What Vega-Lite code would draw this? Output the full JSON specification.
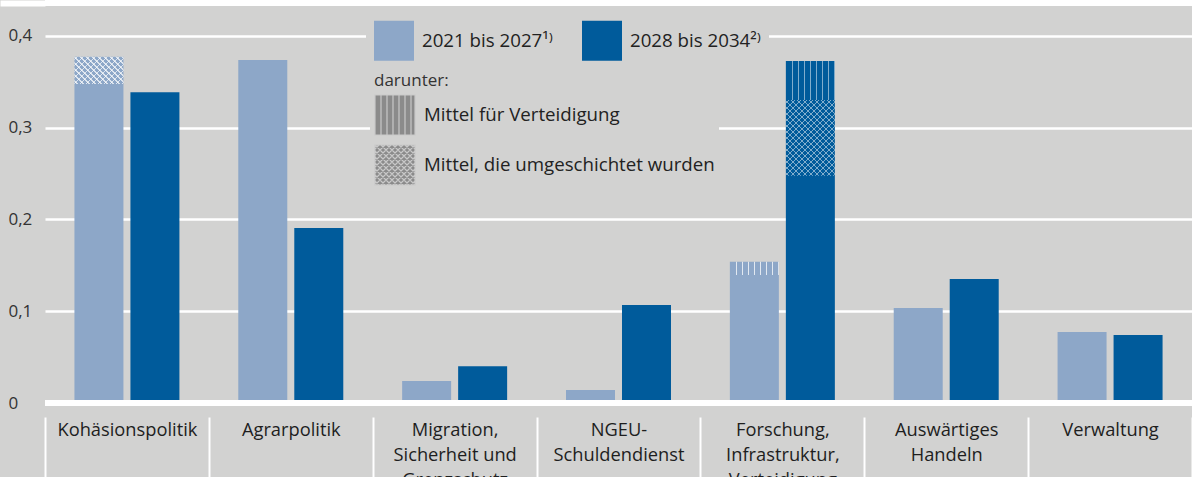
{
  "$schema": "https://vega.github.io/schema/vega-lite/v6.json",
  "width": 1147,
  "height": 400,
  "autosize": {"type": "none"},
  "padding": {"left": 45, "top": 3, "right": 0, "bottom": 74},
  "background": "#d2d2d1",
  "config": {"view": {"stroke": null}, "font": "Open Sans", "point": {"filled": true, "fill": "#8b8b8b", "stroke": "#c9c9c9", "strokeWidth": 1.2}},
  "datasets": {
    "bars": [
      {"cat": "Kohäsionspolitik", "period": "2021 bis 2027", "value": 0.3772},
      {"cat": "Kohäsionspolitik", "period": "2028 bis 2034", "value": 0.3385},
      {"cat": "Agrarpolitik", "period": "2021 bis 2027", "value": 0.3736},
      {"cat": "Agrarpolitik", "period": "2028 bis 2034", "value": 0.1906},
      {"cat": "Migration,|Sicherheit und|Grenzschutz", "period": "2021 bis 2027", "value": 0.024},
      {"cat": "Migration,|Sicherheit und|Grenzschutz", "period": "2028 bis 2034", "value": 0.040},
      {"cat": "NGEU-|Schuldendienst", "period": "2021 bis 2027", "value": 0.0142},
      {"cat": "NGEU-|Schuldendienst", "period": "2028 bis 2034", "value": 0.1068},
      {"cat": "Forschung,|Infrastruktur,|Verteidigung", "period": "2021 bis 2027", "value": 0.1539},
      {"cat": "Forschung,|Infrastruktur,|Verteidigung", "period": "2028 bis 2034", "value": 0.3725},
      {"cat": "Auswärtiges|Handeln", "period": "2021 bis 2027", "value": 0.1035},
      {"cat": "Auswärtiges|Handeln", "period": "2028 bis 2034", "value": 0.1351},
      {"cat": "Verwaltung", "period": "2021 bis 2027", "value": 0.0773},
      {"cat": "Verwaltung", "period": "2028 bis 2034", "value": 0.0741}
    ],
    "parts": [
      {"id": "k_cross", "cat": "Kohäsionspolitik", "period": "2021 bis 2027", "pattern": "Mittel, die umgeschichtet wurden", "lo": 0.3475, "hi": 0.3772},
      {"id": "f_stripe_a", "cat": "Forschung,|Infrastruktur,|Verteidigung", "period": "2021 bis 2027", "pattern": "Mittel für Verteidigung", "lo": 0.1394, "hi": 0.1539},
      {"id": "f_stripe_b", "cat": "Forschung,|Infrastruktur,|Verteidigung", "period": "2028 bis 2034", "pattern": "Mittel für Verteidigung", "lo": 0.3301, "hi": 0.3725},
      {"id": "f_cross", "cat": "Forschung,|Infrastruktur,|Verteidigung", "period": "2028 bis 2034", "pattern": "Mittel, die umgeschichtet wurden", "lo": 0.2476, "hi": 0.3301}
    ]
  },
  "layer": [
    {
      "encoding": {
        "x": {
          "field": "cat", "type": "nominal", "sort": null,
          "scale": {"domain": ["Kohäsionspolitik", "Agrarpolitik", "Migration,|Sicherheit und|Grenzschutz", "NGEU-|Schuldendienst", "Forschung,|Infrastruktur,|Verteidigung", "Auswärtiges|Handeln", "Verwaltung"], "paddingInner": 0, "paddingOuter": 0},
          "axis": {"title": null, "domain": false, "grid": false, "ticks": true, "tickBand": "extent", "tickColor": "white", "tickWidth": 2, "tickSize": 60, "offset": 14, "labelPadding": -56, "labelBaseline": "top", "labelAngle": 0, "labelFontSize": 18.3, "labelLineHeight": 25, "labelColor": "#1e1e1e", "labelExpr": "split(datum.label, '|')", "labelLimit": 0}
        },
        "xOffset": {
          "field": "period", "type": "nominal", "sort": null,
          "scale": {"domain": ["2021 bis 2027", "2028 bis 2034"], "paddingInner": 0.125, "paddingOuter": 0.5256}
        }
      },
      "layer": [
        {
          "data": {"name": "bars"},
          "mark": {"type": "bar"},
          "encoding": {
            "y": {
              "field": "value", "type": "quantitative",
              "scale": {"domain": [0, 0.4357], "nice": false},
              "axis": {"title": null, "values": [0, 0.1, 0.2, 0.3, 0.4, 0.4357], "domain": false, "grid": true, "gridColor": "white", "gridWidth": 2.5, "ticks": true, "tickSize": 45, "tickWidth": 6, "tickColor": {"condition": {"test": "datum.value > 0.41", "value": "white"}, "value": "rgba(0,0,0,0)"}, "labelPadding": -8, "labelAlign": "left", "labelBaseline": "middle", "labelFlush": false, "labelOverlap": false, "labelFontSize": 17, "labelColor": "#333333", "labelExpr": "datum.value > 0.41 ? '' : datum.value == 0 ? '0' : replace(format(datum.value, '.1f'), '.', ',')"}
            },
            "color": {
              "field": "period", "type": "nominal",
              "scale": {"domain": ["2021 bis 2027", "2028 bis 2034"], "range": ["#8da7c8", "#005b9b"]},
              "legend": {"orient": "none", "legendX": 321, "legendY": 9.7, "direction": "horizontal", "columns": 2, "title": null, "symbolType": "square", "symbolSize": 1600, "symbolStrokeWidth": 0, "labelFontSize": 18.7, "labelColor": "#222222", "labelOffset": 8, "columnPadding": 29, "padding": 8, "fillColor": "#d2d2d1", "labelLimit": 0, "labelExpr": "datum.label == '2021 bis 2027' ? '2021 bis 2027¹⁾' : '2028 bis 2034²⁾'"}
            }
          }
        },
        {
          "data": {"name": "parts"},
          "mark": {"type": "point", "size": 0, "fillOpacity": 0, "strokeOpacity": 0},
          "encoding": {
            "shape": {
              "field": "pattern", "type": "nominal",
              "scale": {"domain": ["Mittel für Verteidigung", "Mittel, die umgeschichtet wurden"], "range": ["M-1,-1H1V1H-1Z M-0.7,-1V1 M-0.4,-1V1 M-0.1,-1V1 M0.2,-1V1 M0.5,-1V1 M0.8,-1V1", "M-1,-1H1V1H-1Z M-1,-0.8L-0.8,-1 M-1,-0.5L-0.5,-1 M-1,-0.2L-0.2,-1 M-1,0.1L0.1,-1 M-1,0.4L0.4,-1 M-1,0.7L0.7,-1 M-1,1L1,-1 M-0.7,1L1,-0.7 M-0.4,1L1,-0.4 M-0.1,1L1,-0.1 M0.2,1L1,0.2 M0.5,1L1,0.5 M0.8,1L1,0.8 M-1,0.8L-0.8,1 M-1,0.5L-0.5,1 M-1,0.2L-0.2,1 M-1,-0.1L0.1,1 M-1,-0.4L0.4,1 M-1,-0.7L0.7,1 M-1,-1L1,1 M-0.7,-1L1,0.7 M-0.4,-1L1,0.4 M-0.1,-1L1,0.1 M0.2,-1L1,-0.2 M0.5,-1L1,-0.5 M0.8,-1L1,-0.8"]},
              "legend": {
                "orient": "none", "legendX": 325, "legendY": 66, "direction": "vertical", "title": "darunter:", "titleFontSize": 17, "titleFontWeight": "normal", "titleColor": "#333333", "titlePadding": 4, "titleAnchor": "start",
                "symbolSize": 1600, "symbolStrokeWidth": 1.2, "symbolOpacity": 1, "labelFontSize": 18.7, "labelColor": "#222222", "labelOffset": 8, "rowPadding": 4, "padding": 4, "fillColor": "#d2d2d1", "labelLimit": 0
              }
            }
          }
        },
        {
          "data": {"name": "parts"},
          "transform": [{"filter": "datum.id == 'f_stripe_a'"}],
          "mark": {"type": "bar", "fill": {"gradient": "linear", "x1": 0, "y1": 0, "x2": 1, "y2": 0, "stops": [
            {"offset": 0, "color": "rgba(255,255,255,0)"},
            {"offset": 0.1153, "color": "rgba(255,255,255,0)"}, {"offset": 0.1153, "color": "rgba(255,255,255,0.75)"}, {"offset": 0.1419, "color": "rgba(255,255,255,0.75)"}, {"offset": 0.1419, "color": "rgba(255,255,255,0)"},
            {"offset": 0.2377, "color": "rgba(255,255,255,0)"}, {"offset": 0.2377, "color": "rgba(255,255,255,0.75)"}, {"offset": 0.2643, "color": "rgba(255,255,255,0.75)"}, {"offset": 0.2643, "color": "rgba(255,255,255,0)"},
            {"offset": 0.3602, "color": "rgba(255,255,255,0)"}, {"offset": 0.3602, "color": "rgba(255,255,255,0.75)"}, {"offset": 0.3868, "color": "rgba(255,255,255,0.75)"}, {"offset": 0.3868, "color": "rgba(255,255,255,0)"},
            {"offset": 0.4826, "color": "rgba(255,255,255,0)"}, {"offset": 0.4826, "color": "rgba(255,255,255,0.75)"}, {"offset": 0.5092, "color": "rgba(255,255,255,0.75)"}, {"offset": 0.5092, "color": "rgba(255,255,255,0)"},
            {"offset": 0.6051, "color": "rgba(255,255,255,0)"}, {"offset": 0.6051, "color": "rgba(255,255,255,0.75)"}, {"offset": 0.6317, "color": "rgba(255,255,255,0.75)"}, {"offset": 0.6317, "color": "rgba(255,255,255,0)"},
            {"offset": 0.7275, "color": "rgba(255,255,255,0)"}, {"offset": 0.7275, "color": "rgba(255,255,255,0.75)"}, {"offset": 0.7541, "color": "rgba(255,255,255,0.75)"}, {"offset": 0.7541, "color": "rgba(255,255,255,0)"},
            {"offset": 0.8500, "color": "rgba(255,255,255,0)"}, {"offset": 0.8500, "color": "rgba(255,255,255,0.75)"}, {"offset": 0.8766, "color": "rgba(255,255,255,0.75)"}, {"offset": 0.8766, "color": "rgba(255,255,255,0)"},
            {"offset": 0.9724, "color": "rgba(255,255,255,0)"}, {"offset": 0.9724, "color": "rgba(255,255,255,0.75)"}, {"offset": 0.9990, "color": "rgba(255,255,255,0.75)"}, {"offset": 0.9990, "color": "rgba(255,255,255,0)"},
            {"offset": 1, "color": "rgba(255,255,255,0)"}
          ]}},
          "encoding": {
            "y": {"field": "lo", "type": "quantitative", "title": null, "scale": {"domain": [0, 0.4357], "nice": false}},
            "y2": {"field": "hi"}
          }
        },
        {
          "data": {"name": "parts"},
          "transform": [{"filter": "datum.id == 'f_stripe_b'"}],
          "mark": {"type": "bar", "fill": {"gradient": "linear", "x1": 0, "y1": 0, "x2": 1, "y2": 0, "stops": [
            {"offset": 0, "color": "rgba(255,255,255,0)"},
            {"offset": 0.1153, "color": "rgba(255,255,255,0)"}, {"offset": 0.1153, "color": "rgba(255,255,255,0.5)"}, {"offset": 0.1419, "color": "rgba(255,255,255,0.5)"}, {"offset": 0.1419, "color": "rgba(255,255,255,0)"},
            {"offset": 0.2377, "color": "rgba(255,255,255,0)"}, {"offset": 0.2377, "color": "rgba(255,255,255,0.5)"}, {"offset": 0.2643, "color": "rgba(255,255,255,0.5)"}, {"offset": 0.2643, "color": "rgba(255,255,255,0)"},
            {"offset": 0.3602, "color": "rgba(255,255,255,0)"}, {"offset": 0.3602, "color": "rgba(255,255,255,0.5)"}, {"offset": 0.3868, "color": "rgba(255,255,255,0.5)"}, {"offset": 0.3868, "color": "rgba(255,255,255,0)"},
            {"offset": 0.4826, "color": "rgba(255,255,255,0)"}, {"offset": 0.4826, "color": "rgba(255,255,255,0.5)"}, {"offset": 0.5092, "color": "rgba(255,255,255,0.5)"}, {"offset": 0.5092, "color": "rgba(255,255,255,0)"},
            {"offset": 0.6051, "color": "rgba(255,255,255,0)"}, {"offset": 0.6051, "color": "rgba(255,255,255,0.5)"}, {"offset": 0.6317, "color": "rgba(255,255,255,0.5)"}, {"offset": 0.6317, "color": "rgba(255,255,255,0)"},
            {"offset": 0.7275, "color": "rgba(255,255,255,0)"}, {"offset": 0.7275, "color": "rgba(255,255,255,0.5)"}, {"offset": 0.7541, "color": "rgba(255,255,255,0.5)"}, {"offset": 0.7541, "color": "rgba(255,255,255,0)"},
            {"offset": 0.8500, "color": "rgba(255,255,255,0)"}, {"offset": 0.8500, "color": "rgba(255,255,255,0.5)"}, {"offset": 0.8766, "color": "rgba(255,255,255,0.5)"}, {"offset": 0.8766, "color": "rgba(255,255,255,0)"},
            {"offset": 0.9724, "color": "rgba(255,255,255,0)"}, {"offset": 0.9724, "color": "rgba(255,255,255,0.5)"}, {"offset": 0.9990, "color": "rgba(255,255,255,0.5)"}, {"offset": 0.9990, "color": "rgba(255,255,255,0)"},
            {"offset": 1, "color": "rgba(255,255,255,0)"}
          ]}},
          "encoding": {
            "y": {"field": "lo", "type": "quantitative", "title": null, "scale": {"domain": [0, 0.4357], "nice": false}},
            "y2": {"field": "hi"}
          }
        },
        {
          "data": {"name": "parts"},
          "transform": [{"filter": "datum.id == 'k_cross'"}],
          "mark": {"type": "bar", "fill": {"gradient": "linear", "x1": 0, "y1": 0, "x2": 1.1883, "y2": 0.6619, "stops": [
            {"offset": 0, "color": "rgba(255,255,255,0)"},
            {"offset": 0.0301, "color": "rgba(255,255,255,0)"}, {"offset": 0.0301, "color": "rgba(255,255,255,0.7)"}, {"offset": 0.0485, "color": "rgba(255,255,255,0.7)"}, {"offset": 0.0485, "color": "rgba(255,255,255,0)"},
            {"offset": 0.1088, "color": "rgba(255,255,255,0)"}, {"offset": 0.1088, "color": "rgba(255,255,255,0.7)"}, {"offset": 0.1272, "color": "rgba(255,255,255,0.7)"}, {"offset": 0.1272, "color": "rgba(255,255,255,0)"},
            {"offset": 0.1874, "color": "rgba(255,255,255,0)"}, {"offset": 0.1874, "color": "rgba(255,255,255,0.7)"}, {"offset": 0.2058, "color": "rgba(255,255,255,0.7)"}, {"offset": 0.2058, "color": "rgba(255,255,255,0)"},
            {"offset": 0.2660, "color": "rgba(255,255,255,0)"}, {"offset": 0.2660, "color": "rgba(255,255,255,0.7)"}, {"offset": 0.2844, "color": "rgba(255,255,255,0.7)"}, {"offset": 0.2844, "color": "rgba(255,255,255,0)"},
            {"offset": 0.3447, "color": "rgba(255,255,255,0)"}, {"offset": 0.3447, "color": "rgba(255,255,255,0.7)"}, {"offset": 0.3631, "color": "rgba(255,255,255,0.7)"}, {"offset": 0.3631, "color": "rgba(255,255,255,0)"},
            {"offset": 0.4233, "color": "rgba(255,255,255,0)"}, {"offset": 0.4233, "color": "rgba(255,255,255,0.7)"}, {"offset": 0.4417, "color": "rgba(255,255,255,0.7)"}, {"offset": 0.4417, "color": "rgba(255,255,255,0)"},
            {"offset": 0.5019, "color": "rgba(255,255,255,0)"}, {"offset": 0.5019, "color": "rgba(255,255,255,0.7)"}, {"offset": 0.5203, "color": "rgba(255,255,255,0.7)"}, {"offset": 0.5203, "color": "rgba(255,255,255,0)"},
            {"offset": 0.5806, "color": "rgba(255,255,255,0)"}, {"offset": 0.5806, "color": "rgba(255,255,255,0.7)"}, {"offset": 0.5990, "color": "rgba(255,255,255,0.7)"}, {"offset": 0.5990, "color": "rgba(255,255,255,0)"},
            {"offset": 0.6592, "color": "rgba(255,255,255,0)"}, {"offset": 0.6592, "color": "rgba(255,255,255,0.7)"}, {"offset": 0.6776, "color": "rgba(255,255,255,0.7)"}, {"offset": 0.6776, "color": "rgba(255,255,255,0)"},
            {"offset": 0.7379, "color": "rgba(255,255,255,0)"}, {"offset": 0.7379, "color": "rgba(255,255,255,0.7)"}, {"offset": 0.7563, "color": "rgba(255,255,255,0.7)"}, {"offset": 0.7563, "color": "rgba(255,255,255,0)"},
            {"offset": 0.8165, "color": "rgba(255,255,255,0)"}, {"offset": 0.8165, "color": "rgba(255,255,255,0.7)"}, {"offset": 0.8349, "color": "rgba(255,255,255,0.7)"}, {"offset": 0.8349, "color": "rgba(255,255,255,0)"},
            {"offset": 0.8951, "color": "rgba(255,255,255,0)"}, {"offset": 0.8951, "color": "rgba(255,255,255,0.7)"}, {"offset": 0.9135, "color": "rgba(255,255,255,0.7)"}, {"offset": 0.9135, "color": "rgba(255,255,255,0)"},
            {"offset": 0.9738, "color": "rgba(255,255,255,0)"}, {"offset": 0.9738, "color": "rgba(255,255,255,0.7)"}, {"offset": 0.9922, "color": "rgba(255,255,255,0.7)"}, {"offset": 0.9922, "color": "rgba(255,255,255,0)"},
            {"offset": 1, "color": "rgba(255,255,255,0)"}
          ]}},
          "encoding": {
            "y": {"field": "lo", "type": "quantitative", "title": null, "scale": {"domain": [0, 0.4357], "nice": false}},
            "y2": {"field": "hi"}
          }
        },
        {
          "data": {"name": "parts"},
          "transform": [{"filter": "datum.id == 'k_cross'"}],
          "mark": {"type": "bar", "fill": {"gradient": "linear", "x1": 0, "y1": 1, "x2": 1.1883, "y2": 0.3381, "stops": [
            {"offset": 0, "color": "rgba(255,255,255,0)"},
            {"offset": 0.0301, "color": "rgba(255,255,255,0)"}, {"offset": 0.0301, "color": "rgba(255,255,255,0.7)"}, {"offset": 0.0485, "color": "rgba(255,255,255,0.7)"}, {"offset": 0.0485, "color": "rgba(255,255,255,0)"},
            {"offset": 0.1088, "color": "rgba(255,255,255,0)"}, {"offset": 0.1088, "color": "rgba(255,255,255,0.7)"}, {"offset": 0.1272, "color": "rgba(255,255,255,0.7)"}, {"offset": 0.1272, "color": "rgba(255,255,255,0)"},
            {"offset": 0.1874, "color": "rgba(255,255,255,0)"}, {"offset": 0.1874, "color": "rgba(255,255,255,0.7)"}, {"offset": 0.2058, "color": "rgba(255,255,255,0.7)"}, {"offset": 0.2058, "color": "rgba(255,255,255,0)"},
            {"offset": 0.2660, "color": "rgba(255,255,255,0)"}, {"offset": 0.2660, "color": "rgba(255,255,255,0.7)"}, {"offset": 0.2844, "color": "rgba(255,255,255,0.7)"}, {"offset": 0.2844, "color": "rgba(255,255,255,0)"},
            {"offset": 0.3447, "color": "rgba(255,255,255,0)"}, {"offset": 0.3447, "color": "rgba(255,255,255,0.7)"}, {"offset": 0.3631, "color": "rgba(255,255,255,0.7)"}, {"offset": 0.3631, "color": "rgba(255,255,255,0)"},
            {"offset": 0.4233, "color": "rgba(255,255,255,0)"}, {"offset": 0.4233, "color": "rgba(255,255,255,0.7)"}, {"offset": 0.4417, "color": "rgba(255,255,255,0.7)"}, {"offset": 0.4417, "color": "rgba(255,255,255,0)"},
            {"offset": 0.5019, "color": "rgba(255,255,255,0)"}, {"offset": 0.5019, "color": "rgba(255,255,255,0.7)"}, {"offset": 0.5203, "color": "rgba(255,255,255,0.7)"}, {"offset": 0.5203, "color": "rgba(255,255,255,0)"},
            {"offset": 0.5806, "color": "rgba(255,255,255,0)"}, {"offset": 0.5806, "color": "rgba(255,255,255,0.7)"}, {"offset": 0.5990, "color": "rgba(255,255,255,0.7)"}, {"offset": 0.5990, "color": "rgba(255,255,255,0)"},
            {"offset": 0.6592, "color": "rgba(255,255,255,0)"}, {"offset": 0.6592, "color": "rgba(255,255,255,0.7)"}, {"offset": 0.6776, "color": "rgba(255,255,255,0.7)"}, {"offset": 0.6776, "color": "rgba(255,255,255,0)"},
            {"offset": 0.7379, "color": "rgba(255,255,255,0)"}, {"offset": 0.7379, "color": "rgba(255,255,255,0.7)"}, {"offset": 0.7563, "color": "rgba(255,255,255,0.7)"}, {"offset": 0.7563, "color": "rgba(255,255,255,0)"},
            {"offset": 0.8165, "color": "rgba(255,255,255,0)"}, {"offset": 0.8165, "color": "rgba(255,255,255,0.7)"}, {"offset": 0.8349, "color": "rgba(255,255,255,0.7)"}, {"offset": 0.8349, "color": "rgba(255,255,255,0)"},
            {"offset": 0.8951, "color": "rgba(255,255,255,0)"}, {"offset": 0.8951, "color": "rgba(255,255,255,0.7)"}, {"offset": 0.9135, "color": "rgba(255,255,255,0.7)"}, {"offset": 0.9135, "color": "rgba(255,255,255,0)"},
            {"offset": 0.9738, "color": "rgba(255,255,255,0)"}, {"offset": 0.9738, "color": "rgba(255,255,255,0.7)"}, {"offset": 0.9922, "color": "rgba(255,255,255,0.7)"}, {"offset": 0.9922, "color": "rgba(255,255,255,0)"},
            {"offset": 1, "color": "rgba(255,255,255,0)"}
          ]}},
          "encoding": {
            "y": {"field": "lo", "type": "quantitative", "title": null, "scale": {"domain": [0, 0.4357], "nice": false}},
            "y2": {"field": "hi"}
          }
        },
        {
          "data": {"name": "parts"},
          "transform": [{"filter": "datum.id == 'f_cross'"}],
          "mark": {"type": "bar", "fill": {"gradient": "linear", "x1": 0, "y1": 0, "x2": 0.7514, "y2": 1.1609, "stops": [
            {"offset": 0, "color": "rgba(255,255,255,0)"},
            {"offset": 0.0185, "color": "rgba(255,255,255,0)"}, {"offset": 0.0185, "color": "rgba(255,255,255,0.5)"}, {"offset": 0.0297, "color": "rgba(255,255,255,0.5)"}, {"offset": 0.0297, "color": "rgba(255,255,255,0)"},
            {"offset": 0.0666, "color": "rgba(255,255,255,0)"}, {"offset": 0.0666, "color": "rgba(255,255,255,0.5)"}, {"offset": 0.0778, "color": "rgba(255,255,255,0.5)"}, {"offset": 0.0778, "color": "rgba(255,255,255,0)"},
            {"offset": 0.1147, "color": "rgba(255,255,255,0)"}, {"offset": 0.1147, "color": "rgba(255,255,255,0.5)"}, {"offset": 0.1259, "color": "rgba(255,255,255,0.5)"}, {"offset": 0.1259, "color": "rgba(255,255,255,0)"},
            {"offset": 0.1628, "color": "rgba(255,255,255,0)"}, {"offset": 0.1628, "color": "rgba(255,255,255,0.5)"}, {"offset": 0.1740, "color": "rgba(255,255,255,0.5)"}, {"offset": 0.1740, "color": "rgba(255,255,255,0)"},
            {"offset": 0.2109, "color": "rgba(255,255,255,0)"}, {"offset": 0.2109, "color": "rgba(255,255,255,0.5)"}, {"offset": 0.2221, "color": "rgba(255,255,255,0.5)"}, {"offset": 0.2221, "color": "rgba(255,255,255,0)"},
            {"offset": 0.2590, "color": "rgba(255,255,255,0)"}, {"offset": 0.2590, "color": "rgba(255,255,255,0.5)"}, {"offset": 0.2702, "color": "rgba(255,255,255,0.5)"}, {"offset": 0.2702, "color": "rgba(255,255,255,0)"},
            {"offset": 0.3071, "color": "rgba(255,255,255,0)"}, {"offset": 0.3071, "color": "rgba(255,255,255,0.5)"}, {"offset": 0.3183, "color": "rgba(255,255,255,0.5)"}, {"offset": 0.3183, "color": "rgba(255,255,255,0)"},
            {"offset": 0.3553, "color": "rgba(255,255,255,0)"}, {"offset": 0.3553, "color": "rgba(255,255,255,0.5)"}, {"offset": 0.3665, "color": "rgba(255,255,255,0.5)"}, {"offset": 0.3665, "color": "rgba(255,255,255,0)"},
            {"offset": 0.4034, "color": "rgba(255,255,255,0)"}, {"offset": 0.4034, "color": "rgba(255,255,255,0.5)"}, {"offset": 0.4146, "color": "rgba(255,255,255,0.5)"}, {"offset": 0.4146, "color": "rgba(255,255,255,0)"},
            {"offset": 0.4515, "color": "rgba(255,255,255,0)"}, {"offset": 0.4515, "color": "rgba(255,255,255,0.5)"}, {"offset": 0.4627, "color": "rgba(255,255,255,0.5)"}, {"offset": 0.4627, "color": "rgba(255,255,255,0)"},
            {"offset": 0.4996, "color": "rgba(255,255,255,0)"}, {"offset": 0.4996, "color": "rgba(255,255,255,0.5)"}, {"offset": 0.5108, "color": "rgba(255,255,255,0.5)"}, {"offset": 0.5108, "color": "rgba(255,255,255,0)"},
            {"offset": 0.5477, "color": "rgba(255,255,255,0)"}, {"offset": 0.5477, "color": "rgba(255,255,255,0.5)"}, {"offset": 0.5589, "color": "rgba(255,255,255,0.5)"}, {"offset": 0.5589, "color": "rgba(255,255,255,0)"},
            {"offset": 0.5958, "color": "rgba(255,255,255,0)"}, {"offset": 0.5958, "color": "rgba(255,255,255,0.5)"}, {"offset": 0.6070, "color": "rgba(255,255,255,0.5)"}, {"offset": 0.6070, "color": "rgba(255,255,255,0)"},
            {"offset": 0.6440, "color": "rgba(255,255,255,0)"}, {"offset": 0.6440, "color": "rgba(255,255,255,0.5)"}, {"offset": 0.6552, "color": "rgba(255,255,255,0.5)"}, {"offset": 0.6552, "color": "rgba(255,255,255,0)"},
            {"offset": 0.6921, "color": "rgba(255,255,255,0)"}, {"offset": 0.6921, "color": "rgba(255,255,255,0.5)"}, {"offset": 0.7033, "color": "rgba(255,255,255,0.5)"}, {"offset": 0.7033, "color": "rgba(255,255,255,0)"},
            {"offset": 0.7402, "color": "rgba(255,255,255,0)"}, {"offset": 0.7402, "color": "rgba(255,255,255,0.5)"}, {"offset": 0.7514, "color": "rgba(255,255,255,0.5)"}, {"offset": 0.7514, "color": "rgba(255,255,255,0)"},
            {"offset": 0.7883, "color": "rgba(255,255,255,0)"}, {"offset": 0.7883, "color": "rgba(255,255,255,0.5)"}, {"offset": 0.7995, "color": "rgba(255,255,255,0.5)"}, {"offset": 0.7995, "color": "rgba(255,255,255,0)"},
            {"offset": 0.8364, "color": "rgba(255,255,255,0)"}, {"offset": 0.8364, "color": "rgba(255,255,255,0.5)"}, {"offset": 0.8476, "color": "rgba(255,255,255,0.5)"}, {"offset": 0.8476, "color": "rgba(255,255,255,0)"},
            {"offset": 0.8845, "color": "rgba(255,255,255,0)"}, {"offset": 0.8845, "color": "rgba(255,255,255,0.5)"}, {"offset": 0.8957, "color": "rgba(255,255,255,0.5)"}, {"offset": 0.8957, "color": "rgba(255,255,255,0)"},
            {"offset": 0.9327, "color": "rgba(255,255,255,0)"}, {"offset": 0.9327, "color": "rgba(255,255,255,0.5)"}, {"offset": 0.9439, "color": "rgba(255,255,255,0.5)"}, {"offset": 0.9439, "color": "rgba(255,255,255,0)"},
            {"offset": 0.9808, "color": "rgba(255,255,255,0)"}, {"offset": 0.9808, "color": "rgba(255,255,255,0.5)"}, {"offset": 0.9920, "color": "rgba(255,255,255,0.5)"}, {"offset": 0.9920, "color": "rgba(255,255,255,0)"},
            {"offset": 1, "color": "rgba(255,255,255,0)"}
          ]}},
          "encoding": {
            "y": {"field": "lo", "type": "quantitative", "title": null, "scale": {"domain": [0, 0.4357], "nice": false}},
            "y2": {"field": "hi"}
          }
        },
        {
          "data": {"name": "parts"},
          "transform": [{"filter": "datum.id == 'f_cross'"}],
          "mark": {"type": "bar", "fill": {"gradient": "linear", "x1": 0, "y1": 1, "x2": 0.7514, "y2": -0.1609, "stops": [
            {"offset": 0, "color": "rgba(255,255,255,0)"},
            {"offset": 0.0185, "color": "rgba(255,255,255,0)"}, {"offset": 0.0185, "color": "rgba(255,255,255,0.5)"}, {"offset": 0.0297, "color": "rgba(255,255,255,0.5)"}, {"offset": 0.0297, "color": "rgba(255,255,255,0)"},
            {"offset": 0.0666, "color": "rgba(255,255,255,0)"}, {"offset": 0.0666, "color": "rgba(255,255,255,0.5)"}, {"offset": 0.0778, "color": "rgba(255,255,255,0.5)"}, {"offset": 0.0778, "color": "rgba(255,255,255,0)"},
            {"offset": 0.1147, "color": "rgba(255,255,255,0)"}, {"offset": 0.1147, "color": "rgba(255,255,255,0.5)"}, {"offset": 0.1259, "color": "rgba(255,255,255,0.5)"}, {"offset": 0.1259, "color": "rgba(255,255,255,0)"},
            {"offset": 0.1628, "color": "rgba(255,255,255,0)"}, {"offset": 0.1628, "color": "rgba(255,255,255,0.5)"}, {"offset": 0.1740, "color": "rgba(255,255,255,0.5)"}, {"offset": 0.1740, "color": "rgba(255,255,255,0)"},
            {"offset": 0.2109, "color": "rgba(255,255,255,0)"}, {"offset": 0.2109, "color": "rgba(255,255,255,0.5)"}, {"offset": 0.2221, "color": "rgba(255,255,255,0.5)"}, {"offset": 0.2221, "color": "rgba(255,255,255,0)"},
            {"offset": 0.2590, "color": "rgba(255,255,255,0)"}, {"offset": 0.2590, "color": "rgba(255,255,255,0.5)"}, {"offset": 0.2702, "color": "rgba(255,255,255,0.5)"}, {"offset": 0.2702, "color": "rgba(255,255,255,0)"},
            {"offset": 0.3071, "color": "rgba(255,255,255,0)"}, {"offset": 0.3071, "color": "rgba(255,255,255,0.5)"}, {"offset": 0.3183, "color": "rgba(255,255,255,0.5)"}, {"offset": 0.3183, "color": "rgba(255,255,255,0)"},
            {"offset": 0.3553, "color": "rgba(255,255,255,0)"}, {"offset": 0.3553, "color": "rgba(255,255,255,0.5)"}, {"offset": 0.3665, "color": "rgba(255,255,255,0.5)"}, {"offset": 0.3665, "color": "rgba(255,255,255,0)"},
            {"offset": 0.4034, "color": "rgba(255,255,255,0)"}, {"offset": 0.4034, "color": "rgba(255,255,255,0.5)"}, {"offset": 0.4146, "color": "rgba(255,255,255,0.5)"}, {"offset": 0.4146, "color": "rgba(255,255,255,0)"},
            {"offset": 0.4515, "color": "rgba(255,255,255,0)"}, {"offset": 0.4515, "color": "rgba(255,255,255,0.5)"}, {"offset": 0.4627, "color": "rgba(255,255,255,0.5)"}, {"offset": 0.4627, "color": "rgba(255,255,255,0)"},
            {"offset": 0.4996, "color": "rgba(255,255,255,0)"}, {"offset": 0.4996, "color": "rgba(255,255,255,0.5)"}, {"offset": 0.5108, "color": "rgba(255,255,255,0.5)"}, {"offset": 0.5108, "color": "rgba(255,255,255,0)"},
            {"offset": 0.5477, "color": "rgba(255,255,255,0)"}, {"offset": 0.5477, "color": "rgba(255,255,255,0.5)"}, {"offset": 0.5589, "color": "rgba(255,255,255,0.5)"}, {"offset": 0.5589, "color": "rgba(255,255,255,0)"},
            {"offset": 0.5958, "color": "rgba(255,255,255,0)"}, {"offset": 0.5958, "color": "rgba(255,255,255,0.5)"}, {"offset": 0.6070, "color": "rgba(255,255,255,0.5)"}, {"offset": 0.6070, "color": "rgba(255,255,255,0)"},
            {"offset": 0.6440, "color": "rgba(255,255,255,0)"}, {"offset": 0.6440, "color": "rgba(255,255,255,0.5)"}, {"offset": 0.6552, "color": "rgba(255,255,255,0.5)"}, {"offset": 0.6552, "color": "rgba(255,255,255,0)"},
            {"offset": 0.6921, "color": "rgba(255,255,255,0)"}, {"offset": 0.6921, "color": "rgba(255,255,255,0.5)"}, {"offset": 0.7033, "color": "rgba(255,255,255,0.5)"}, {"offset": 0.7033, "color": "rgba(255,255,255,0)"},
            {"offset": 0.7402, "color": "rgba(255,255,255,0)"}, {"offset": 0.7402, "color": "rgba(255,255,255,0.5)"}, {"offset": 0.7514, "color": "rgba(255,255,255,0.5)"}, {"offset": 0.7514, "color": "rgba(255,255,255,0)"},
            {"offset": 0.7883, "color": "rgba(255,255,255,0)"}, {"offset": 0.7883, "color": "rgba(255,255,255,0.5)"}, {"offset": 0.7995, "color": "rgba(255,255,255,0.5)"}, {"offset": 0.7995, "color": "rgba(255,255,255,0)"},
            {"offset": 0.8364, "color": "rgba(255,255,255,0)"}, {"offset": 0.8364, "color": "rgba(255,255,255,0.5)"}, {"offset": 0.8476, "color": "rgba(255,255,255,0.5)"}, {"offset": 0.8476, "color": "rgba(255,255,255,0)"},
            {"offset": 0.8845, "color": "rgba(255,255,255,0)"}, {"offset": 0.8845, "color": "rgba(255,255,255,0.5)"}, {"offset": 0.8957, "color": "rgba(255,255,255,0.5)"}, {"offset": 0.8957, "color": "rgba(255,255,255,0)"},
            {"offset": 0.9327, "color": "rgba(255,255,255,0)"}, {"offset": 0.9327, "color": "rgba(255,255,255,0.5)"}, {"offset": 0.9439, "color": "rgba(255,255,255,0.5)"}, {"offset": 0.9439, "color": "rgba(255,255,255,0)"},
            {"offset": 0.9808, "color": "rgba(255,255,255,0)"}, {"offset": 0.9808, "color": "rgba(255,255,255,0.5)"}, {"offset": 0.9920, "color": "rgba(255,255,255,0.5)"}, {"offset": 0.9920, "color": "rgba(255,255,255,0)"},
            {"offset": 1, "color": "rgba(255,255,255,0)"}
          ]}},
          "encoding": {
            "y": {"field": "lo", "type": "quantitative", "title": null, "scale": {"domain": [0, 0.4357], "nice": false}},
            "y2": {"field": "hi"}
          }
        }
      ]
    },
    {
      "data": {"values": [{}]},
      "mark": {"type": "rule", "color": "white", "strokeWidth": 6},
      "encoding": {"y": {"datum": 0, "type": "quantitative", "title": null, "scale": {"domain": [0, 0.4357], "nice": false}}}
    },
    {
      "data": {"values": [{}]},
      "mark": {"type": "rule", "color": "white", "strokeWidth": 6},
      "encoding": {"y": {"datum": 0.4357, "type": "quantitative", "title": null, "scale": {"domain": [0, 0.4357], "nice": false}}}
    }
  ]
}
